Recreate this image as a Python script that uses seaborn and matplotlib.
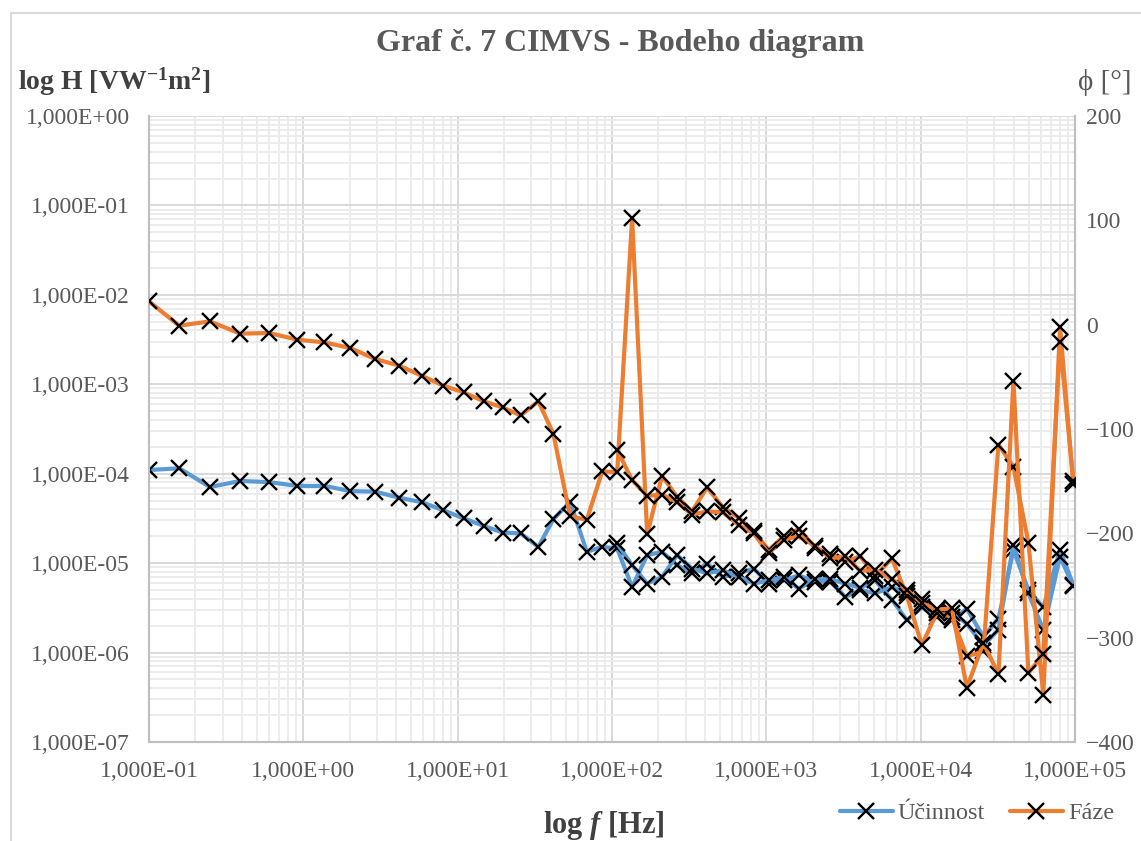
import numpy as np
import pandas as pd
import matplotlib
matplotlib.use("Agg")
import matplotlib.pyplot as plt
import seaborn as sns
from matplotlib.ticker import FuncFormatter, LogLocator, FixedLocator, NullFormatter
from matplotlib.lines import Line2D
from matplotlib.patches import Rectangle

# low-frequency sweep (first measurement only)
f_low = [0.1, 0.157, 0.248, 0.389, 0.602, 0.914, 1.37, 2.01, 2.92, 4.17, 5.85, 8.08,
         11.0, 14.8, 19.6, 25.6, 33.3, 41.7, 53.5, 68.7, 86.4]
h_low = [1.10e-4, 1.15e-4, 7.1e-5, 8.3e-5, 8.05e-5, 7.3e-5, 7.3e-5, 6.4e-5, 6.3e-5, 5.4e-5,
         4.8e-5, 3.9e-5, 3.16e-5, 2.6e-5, 2.2e-5, 2.15e-5, 1.52e-5, 3.1e-5, 4.85e-5, 1.34e-5, 1.52e-5]
phi_low = [22.3, -1, 3.2, -8.6, -8, -14.4, -17, -22.3, -32.9, -39.2, -49, -58.5, -65, -73.5,
           -79.3, -87, -73.5, -104.5, -183.7, -187, -140.6]

# upper range, measured twice (sweep A continues the low sweep, sweep B separate)
f_high = [108, 135, 169, 211, 264, 330, 413, 523, 662, 828, 1035, 1294, 1620, 2076, 2600,
          3250, 4060, 5080, 6510, 8140, 10180, 12730, 15920, 19910, 25500, 31900, 39900,
          49900, 62300, 80000, 97500]
h_a = [1.46e-5, 5.4e-6, 1.23e-5, 1.34e-5, 9.5e-6, 7.7e-6, 9.9e-6, 7.0e-6, 7.7e-6, 8.7e-6,
       5.9e-6, 6.4e-6, 7.3e-6, 6.2e-6, 6.2e-6, 4.2e-6, 5.0e-6, 4.6e-6, 5.4e-6, 4.6e-6,
       4.0e-6, 3.0e-6, 2.3e-6, 3.1e-6, 1.5e-6, 2.4e-6, 1.4e-5, 5.0e-6, 3.2e-6, 1.4e-5, 5.7e-6]
h_b = [1.66e-5, 9.5e-6, 5.9e-6, 7.0e-6, 1.23e-5, 8.7e-6, 7.7e-6, 8.35e-6, 7.0e-6, 5.9e-6,
       6.4e-6, 7.0e-6, 5.2e-6, 6.6e-6, 6.6e-6, 5.9e-6, 5.3e-6, 6.4e-6, 3.9e-6, 2.3e-6,
       3.2e-6, 2.5e-6, 2.8e-6, 2.1e-6, 1.2e-6, 1.8e-6, 1.6e-5, 4.6e-6, 1.8e-6, 1.18e-5, 5.5e-6]
phi_a = [-141.5, 102, -201, -145, -165, -179, -156, -175, -185, -198, -216, -203, -196, -214,
         -220, -227, -222, -241, -224, -260, -307, -276, -280, -318, -313, -115, -136, -209,
         -355, -2, -153]
phi_b = [-120, -149, -164, -163, -170, -182, -179, -180, -192, -200, -219, -206, -203, -212,
         -224, -222, -236, -235, -244, -254, -267, -273, -272, -348, -305, -335, -54, -334,
         -316, -17, -150]

x_ticks = [1e-1, 1e0, 1e1, 1e2, 1e3, 1e4, 1e5]
h_ticks = [1e-7, 1e-6, 1e-5, 1e-4, 1e-3, 1e-2, 1e-1, 1e0]
phi_ticks = [-400, -300, -200, -100, 0, 100, 200]

sns.set_theme(style="white")
plt.rcParams["font.family"] = ["Liberation Serif", "DejaVu Serif"]
plt.rcParams["mathtext.fontset"] = "custom"
plt.rcParams["mathtext.rm"] = "Liberation Serif:bold"
plt.rcParams["mathtext.it"] = "Liberation Serif:italic:bold"
plt.rcParams["mathtext.bf"] = "Liberation Serif:bold"

W, H = 1141, 841
blue = "#5B9BD5"
orange = "#ED7D31"
grey = "#595959"

df_h = pd.DataFrame({
    "f": f_low + f_high + f_high,
    "H": h_low + h_a + h_b,
    "sweep": ["A"] * (len(f_low) + len(f_high)) + ["B"] * len(f_high),
})
df_phi = pd.DataFrame({
    "f": f_low + f_high + f_high,
    "phi": phi_low + phi_a + phi_b,
    "sweep": ["A"] * (len(f_low) + len(f_high)) + ["B"] * len(f_high),
})

fig = plt.figure(figsize=(W / 100, H / 100), dpi=100)
ax = fig.add_axes([149 / W, 1 - 742 / H, (1075 - 149) / W, (742 - 116) / H])
ax2 = ax.twinx()

mk = dict(marker="x", markersize=11, markeredgecolor="black", markeredgewidth=1.7)
sns.lineplot(data=df_h, x="f", y="H", units="sweep", estimator=None, sort=False,
             color=blue, linewidth=3, ax=ax, legend=False, zorder=3, **mk)
sns.lineplot(data=df_phi, x="f", y="phi", units="sweep", estimator=None, sort=False,
             color=orange, linewidth=3, ax=ax2, legend=False, zorder=3, **mk)

ax.set_xscale("log")
ax.set_yscale("log")
ax.set_xlim(x_ticks[0], x_ticks[-1])
ax.set_ylim(h_ticks[0], h_ticks[-1])
ax2.set_ylim(phi_ticks[0], phi_ticks[-1])

sci = FuncFormatter(lambda v, p: f"{v:.3E}".replace(".", ","))
ax.xaxis.set_major_locator(FixedLocator(x_ticks))
ax.xaxis.set_major_formatter(sci)
ax.xaxis.set_minor_locator(LogLocator(base=10, subs=np.arange(2, 10)))
ax.xaxis.set_minor_formatter(NullFormatter())
ax.yaxis.set_major_locator(FixedLocator(h_ticks))
ax.yaxis.set_major_formatter(sci)
ax.yaxis.set_minor_locator(LogLocator(base=10, subs=np.arange(2, 10)))
ax.yaxis.set_minor_formatter(NullFormatter())
ax2.yaxis.set_major_locator(FixedLocator(phi_ticks))

ax.grid(True, which="major", color="#d9d9d9", linewidth=1.4)
ax.grid(True, which="minor", color="#ebebeb", linewidth=1.3)
ax.set_axisbelow(True)

for a in (ax, ax2):
    a.set_xlabel("")
    a.set_ylabel("")
    a.tick_params(which="both", length=0, labelsize=17, labelcolor=grey)
    for side in ("left", "bottom", "right"):
        a.spines[side].set_visible(True)
        a.spines[side].set_color("#bfbfbf")
        a.spines[side].set_linewidth(1.5)
    a.spines["top"].set_visible(False)
ax.tick_params(axis="x", pad=14)
ax.tick_params(axis="y", pad=14)
ax2.tick_params(axis="y", pad=8)

fig.text(620 / W, 1 - 43 / H, "Graf č. 7 CIMVS - Bodeho diagram", ha="center", va="center",
         fontsize=23, fontweight="bold", color=grey)
fig.text(18 / W, 1 - 82 / H, r"log H [VW$^{-1}$m$^{2}$]", ha="left", va="center",
         fontsize=20, fontweight="bold", color="#404040")
fig.text(1132 / W, 1 - 82 / H, "ϕ [°]", ha="right", va="center", fontsize=21, color=grey)
fig.text(604 / W, 1 - 825 / H, r"log $f$ [Hz]", ha="center", va="center",
         fontsize=22, fontweight="bold", color="#404040")

handles = [Line2D([], [], color=blue, linewidth=3, **mk),
           Line2D([], [], color=orange, linewidth=3, **mk)]
fig.legend(handles, ["Účinnost", "Fáze"], loc="center right", bbox_to_anchor=(1136 / W, 1 - 813 / H),
           ncol=2, frameon=False, fontsize=17.5, labelcolor=grey, handlelength=2.2,
           columnspacing=1.0, handletextpad=0.2)

fig.patches.append(Rectangle((11 / W, -0.05), 1.2, 1 - 13 / H + 0.05, transform=fig.transFigure,
                             fill=False, edgecolor="#d9d9d9", linewidth=1.5))

fig.savefig("out.png", dpi=100)
